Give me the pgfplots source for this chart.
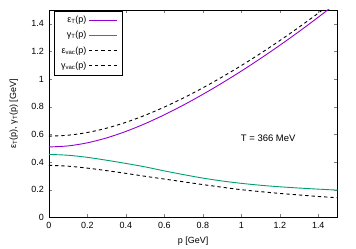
\documentclass[border=0pt]{standalone}
\usepackage{fontspec}
\setmainfont{Liberation Sans}
\usepackage{pgfplots}
\pgfplotsset{compat=1.18}
\definecolor{gpurple}{HTML}{9400D3}
\definecolor{ggreen}{HTML}{009E73}
\begin{document}
\begin{tikzpicture}
\path[use as bounding box] (-48.8bp,-31.5bp) rectangle (307.2bp,217.5bp);
\begin{axis}[
  scale only axis, width=288.7bp, height=207.5bp,
  xmin=0, xmax=1.5, ymin=0, ymax=1.5,
  xtick={0,0.2,0.4,0.6,0.8,1,1.2,1.4},
  ytick={0,0.2,0.4,0.6,0.8,1,1.2,1.4},
  tick align=inside, major tick length=3.5bp,
  xtick pos=both, ytick pos=both,
  /pgf/number format/assume math mode=true,
  tick label style={font=\fontsize{9}{10.8}\selectfont},
  label style={font=\fontsize{9}{10.8}\selectfont},
  xticklabel style={yshift=-1bp},
  yticklabel style={xshift=-1.5bp},
  xlabel={p [GeV]}, ylabel={ε\textsubscript{T}(p), γ\textsubscript{T}(p) [GeV]},
  x label style={at={(axis description cs:0.5,-0.113)}, anchor=center},
  y label style={at={(axis description cs:-0.121,0.5)}, anchor=center},
  legend style={at={(axis description cs:0.018,0.995)}, anchor=north west, draw=black,
    font=\fontsize{9}{10.8}\selectfont, row sep=3.2bp, inner xsep=5bp, inner ysep=3bp,
    nodes={inner sep=2bp}},
  legend plot pos=right, legend cell align=right,
  legend image code/.code={\draw[#1] (3bp,0bp) -- (31bp,0bp);},
  every axis plot/.append style={line width=0.9bp},
]
\addplot[gpurple, smooth] coordinates {(0,0.510)(0.1,0.5175)(0.2,0.5397)(0.3,0.5752)(0.4,0.6220)(0.5,0.6782)(0.6,0.7424)(0.7,0.8133)(0.8,0.8899)(0.9,0.9718)(1.0,1.0583)(1.1,1.1493)(1.2,1.2446)(1.3,1.3441)(1.4,1.4478)(1.5,1.5556)};
\addlegendentry{ε\textsubscript{T}(p)}
\addplot[ggreen, smooth] coordinates {(0,0.456)(0.1,0.450)(0.2,0.435)(0.3,0.414)(0.4,0.391)(0.5,0.366)(0.6,0.337)(0.7,0.310)(0.8,0.285)(0.9,0.264)(1.0,0.247)(1.1,0.233)(1.2,0.222)(1.3,0.213)(1.4,0.205)(1.5,0.198)};
\addlegendentry{γ\textsubscript{T}(p)}
\addplot[black, dash pattern=on 3.3bp off 3bp, smooth] coordinates {(0,0.5882)(0.1,0.5948)(0.2,0.6143)(0.3,0.6457)(0.4,0.6877)(0.5,0.7389)(0.6,0.7982)(0.7,0.8645)(0.8,0.9370)(0.9,1.0150)(1.0,1.0982)(1.1,1.1861)(1.2,1.2787)(1.3,1.3758)(1.4,1.4772)(1.5,1.5830)};
\addlegendentry{ε\textsubscript{vac}(p)}
\addplot[black, dash pattern=on 3.3bp off 3bp, smooth] coordinates {(0,0.377)(0.1,0.371)(0.2,0.357)(0.3,0.339)(0.4,0.319)(0.5,0.298)(0.6,0.278)(0.7,0.258)(0.8,0.238)(0.9,0.219)(1.0,0.201)(1.1,0.187)(1.2,0.174)(1.3,0.163)(1.4,0.152)(1.5,0.143)};
\addlegendentry{γ\textsubscript{vac}(p)}
\node[font=\fontsize{9.5}{11}\selectfont] at (axis cs:1.14,0.57) {T = 366 MeV};
\end{axis}
\end{tikzpicture}
\end{document}
